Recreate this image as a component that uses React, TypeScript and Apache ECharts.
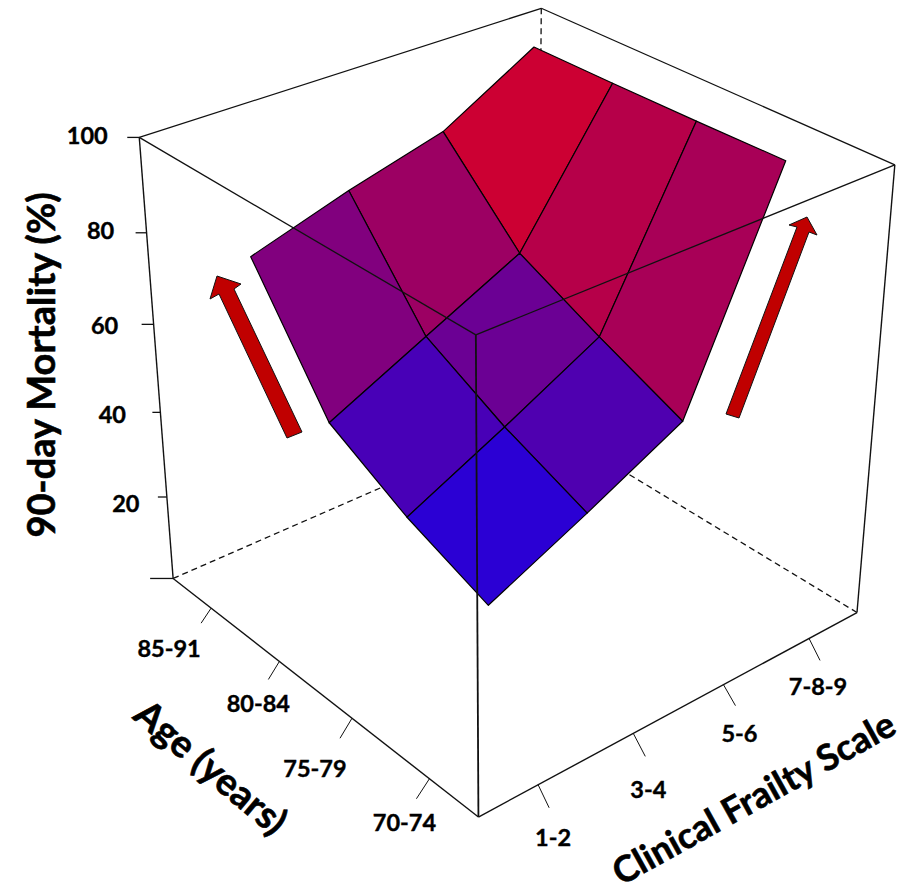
import React, { useEffect, useRef } from "react";
import * as echarts from "echarts";

// ---- data ----
const ageLabels = ["70-74", "75-79", "80-84", "85-91"];
const frailtyLabels = ["1-2", "3-4", "5-6", "7-8-9"];
const mortalityTicks = [0, 20, 40, 60, 80, 100];
const mortalityAge70 = [32.6, 42.6, 53.2, 99.9];
const mortalityAge75 = [39.8, 50.2, 61.2, 99.6];
const mortalityAge80 = [49.4, 59.7, 69.9, 99.5];
const mortalityAge85 = [75.6, 82.2, 87.8, 99.5];
const mortality = [mortalityAge70, mortalityAge75, mortalityAge80, mortalityAge85];

// ---- view: perspective camera of the box, unit cube -> screen ----
const CAM = [-280.8799, 479.2753, -53.55422, 478.4276, -156.9867, -132.5397, -517.9707, 817.0299, 0.1410283, 0.1175136, -0.107103];
const project = (u: number, v: number, w: number) => {
  const d = CAM[8] * u + CAM[9] * v + CAM[10] * w + 1;
  return [(CAM[0] * u + CAM[1] * v + CAM[2] * w + CAM[3]) / d, (CAM[4] * u + CAM[5] * v + CAM[6] * w + CAM[7]) / d];
};
const gridPos = (i: number) => 0.1435 + 0.239 * i;
const zPos = (z: number) => z / 100;

const FONT = "Lato";
const LINE = "#111";

const backEdges = [
  [1, 0, 1, 1, 1, 1, 0],
  [1, 1, 1, 0, 1, 1, 0],
  [1, 1, 1, 1, 1, 0, 1],
  [1, 0, 0, 1, 1, 0, 1],
  [0, 1, 0, 1, 1, 0, 1],
];
const frontEdges = [
  [1, 0, 1, 0, 0, 1, 1.3],
  [0, 1, 1, 0, 0, 1, 1.3],
  [0, 0, 1, 0, 0, 0, 1.8],
  [1, 0, 1, 1, 0, 0, 1.4],
  [0, 1, 1, 0, 1, 0, 1.4],
  [1, 0, 0, 0, 0, 0, 1.4],
  [0, 1, 0, 0, 0, 0, 1.4],
];
const zTickOut = [23, 9, 8, 12, 11, 12];
const zLabelOffset = [[0, 0], [-41, 6], [-48, 2], [-49, 1], [-46, -3], [-52, -2]];
const ageTickOut = [[-13, 20], [-12, 20], [-11, 18], [-10, 15]];
const ageLabelOffset = [[-25, 43], [-37, 50], [-21, 42], [-42, 40]];
const frailtyTickOut = [[11, 23], [12, 23], [12, 21], [11, 22]];
const frailtyLabelOffset = [[15, 52], [15, 56], [16, 48], [9, 48]];

const facetRows: number[][] = [];
for (let i = 2; i >= 0; i--) for (let j = 2; j >= 0; j--) facetRows.push([i, j]);

const facetColor = (mean: number) => {
  const t = Math.max(0, Math.min(1, (mean - 28.4) / 75.8));
  return `rgb(${Math.round(255 * t)},0,${Math.round(255 * (1 - t))})`;
};

const tickText = (x: number, y: number, text: string) => ({
  type: "text",
  style: { x, y, text, fill: "#000", stroke: "#000", lineWidth: 0.4, font: `700 23.5px ${FONT}`, align: "center", verticalAlign: "middle" },
});
const titleStyle = (text: string, size = 38) => ({
  text, fill: "#000", stroke: "#000", lineWidth: 0.6, font: `700 ${size}px ${FONT}`, align: "center", verticalAlign: "middle",
});

const arrowLeft = [[287, 438], [302, 432], [234, 289], [241, 284], [217, 276], [210, 299], [219, 294]];
const arrowRight = [[726, 414], [797, 227], [789, 225], [807, 217], [817, 235], [809, 232], [739, 418]];

export default function App() {
  const ref = useRef<HTMLDivElement>(null);
  useEffect(() => {
    document.body.style.margin = "0";
    document.body.style.background = "#fff";
    const chart = echarts.init(ref.current!, undefined, { renderer: "svg" });
    const seg = (api: any, a: number[], b: number[], dashed?: boolean, width = 1.3) => {
      const p = api.coord(a), q = api.coord(b);
      return {
        type: "line",
        shape: { x1: p[0], y1: p[1], x2: q[0], y2: q[1] },
        style: { stroke: LINE, lineWidth: width, lineDash: dashed ? [6, 4] : undefined },
      };
    };
    const option: any = {
      animation: false,
      backgroundColor: "#fff",
      grid: { left: 0, right: 0, top: 0, bottom: 0 },
      xAxis: { type: "value", min: 0, max: 908, show: false },
      yAxis: { type: "value", min: 0, max: 893, inverse: true, show: false },
      tooltip: { show: false },
      series: [
        {
          type: "custom", name: "box back", coordinateSystem: "cartesian2d", silent: true, clip: false, z: 1,
          data: backEdges,
          renderItem: (_: any, api: any) => {
            const a = project(api.value(0), api.value(1), api.value(2));
            const b = project(api.value(3), api.value(4), api.value(5));
            return seg(api, a, b, api.value(6) === 1);
          },
        },
        {
          type: "custom", name: "90-day mortality surface", coordinateSystem: "cartesian2d", silent: true, clip: false, z: 2,
          data: facetRows.map(([i, j]) => [i, j, mortality[i][j], mortality[i + 1][j], mortality[i + 1][j + 1], mortality[i][j + 1]]),
          renderItem: (_: any, api: any) => {
            const i = api.value(0), j = api.value(1);
            const corners = [[i, j, api.value(2)], [i + 1, j, api.value(3)], [i + 1, j + 1, api.value(4)], [i, j + 1, api.value(5)]];
            const points = corners.map(([a, b, z]) => api.coord(project(gridPos(a), gridPos(b), zPos(z))));
            const mean = corners.reduce((s, c) => s + c[2], 0) / 4;
            return {
              type: "polygon",
              shape: { points },
              style: { fill: facetColor(mean), stroke: "#000", lineWidth: 1.2, lineJoin: "round" },
            };
          },
        },
        {
          type: "custom", name: "box front", coordinateSystem: "cartesian2d", silent: true, clip: false, z: 3,
          data: frontEdges,
          renderItem: (_: any, api: any) => {
            const a = project(api.value(0), api.value(1), api.value(2));
            const b = project(api.value(3), api.value(4), api.value(5));
            return seg(api, a, b, false, api.value(6));
          },
        },
        {
          type: "custom", name: "mortality axis", coordinateSystem: "cartesian2d", silent: true, clip: false, z: 4,
          data: mortalityTicks.map((t, k) => [t, k]),
          renderItem: (_: any, api: any) => {
            const t = api.value(0), k = api.value(1);
            const p = project(1, 0, zPos(t));
            const children: any[] = [seg(api, p, [p[0] - zTickOut[k], p[1]])];
            if (t > 0) children.push(tickText(p[0] + zLabelOffset[k][0], p[1] + zLabelOffset[k][1], String(t)));
            return { type: "group", children };
          },
        },
        {
          type: "custom", name: "age axis", coordinateSystem: "cartesian2d", silent: true, clip: false, z: 4,
          data: ageLabels.map((_, k) => [k]),
          renderItem: (_: any, api: any) => {
            const k = api.value(0);
            const p = project(gridPos(k), 0, 0);
            return {
              type: "group",
              children: [
                seg(api, p, [p[0] + ageTickOut[k][0], p[1] + ageTickOut[k][1]], false, 1),
                tickText(p[0] + ageLabelOffset[k][0], p[1] + ageLabelOffset[k][1], ageLabels[k]),
              ],
            };
          },
        },
        {
          type: "custom", name: "frailty axis", coordinateSystem: "cartesian2d", silent: true, clip: false, z: 4,
          data: frailtyLabels.map((_, k) => [k]),
          renderItem: (_: any, api: any) => {
            const k = api.value(0);
            const p = project(0, gridPos(k), 0);
            return {
              type: "group",
              children: [
                seg(api, p, [p[0] + frailtyTickOut[k][0], p[1] + frailtyTickOut[k][1]], false, 1),
                tickText(p[0] + frailtyLabelOffset[k][0], p[1] + frailtyLabelOffset[k][1], frailtyLabels[k]),
              ],
            };
          },
        },
      ],
      graphic: [
        { type: "polygon", z: 10, shape: { points: arrowLeft }, style: { fill: "#c00000", stroke: "#111", lineWidth: 1 } },
        { type: "polygon", z: 10, shape: { points: arrowRight }, style: { fill: "#c00000", stroke: "#111", lineWidth: 1 } },
        { type: "text", z: 10, x: 40, y: 365, rotation: Math.PI / 2, style: titleStyle("90-day Mortality (%)") },
        { type: "text", z: 10, x: 212, y: 766, rotation: (-40 * Math.PI) / 180, style: titleStyle("Age (years)") },
        { type: "text", z: 10, x: 753, y: 797, rotation: (29 * Math.PI) / 180, style: titleStyle("Clinical Frailty Scale", 36) },
      ],
    };
    chart.setOption(option);
    return () => chart.dispose();
  }, []);
  return <div ref={ref} style={{ width: 908, height: 893 }} />;
}
